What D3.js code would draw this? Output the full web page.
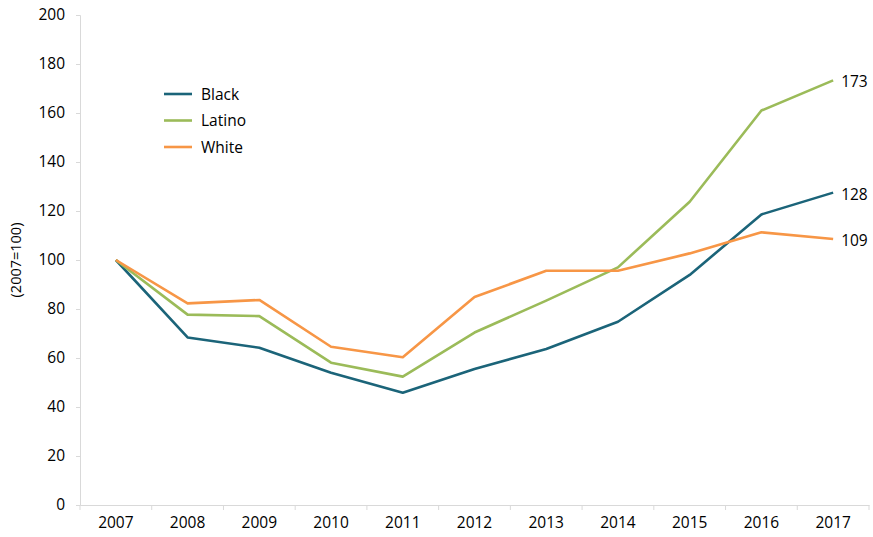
<!DOCTYPE html>
<html><head><meta charset="utf-8">
<script src="https://cdn.jsdelivr.net/npm/d3@7"></script>
<style>
body{margin:0;background:#fff;}
svg text{font-family:"Open Sans","Noto Sans",sans-serif;fill:#000;}
</style></head>
<body><svg id="c" width="873" height="537"></svg>
<script>
const years = ["2007","2008","2009","2010","2011","2012","2013","2014","2015","2016","2017"];
const black = [100, 68.4, 64.2, 54.0, 45.8, 55.5, 63.7, 74.8, 93.9, 118.6, 127.5];
const latino = [100, 77.7, 77.1, 58.1, 52.4, 70.4, 83.4, 97.0, 123.8, 161.0, 173.3];
const white = [100, 82.3, 83.7, 64.6, 60.3, 84.9, 95.6, 95.6, 102.7, 111.3, 108.6];
const seriesNames = ["Black", "Latino", "White"];
const seriesColors = ["#1b6479", "#9bbb59", "#f79646"];
const endLabels = ["128", "173", "109"];
const yTicks = [0,20,40,60,80,100,120,140,160,180,200];

const svg = d3.select("#c");
const m = {l:80, r:869, t:15, b:505};
const x = d3.scaleBand().domain(years).range([m.l, m.r]);
const y = d3.scaleLinear().domain([0,200]).range([m.b, m.t]);
const axisColor = "#d9d9d9";
const fs = "15.5px";

// y axis
const ya = svg.append("g").attr("transform",`translate(${m.l},0)`)
  .call(d3.axisLeft(y).tickValues(yTicks).tickSize(4).tickPadding(11));
ya.select(".domain").attr("stroke",axisColor);
ya.selectAll(".tick line").attr("stroke",axisColor);
ya.selectAll(".tick text").attr("font-size",fs).attr("fill","#000");

// x axis
const xa = svg.append("g").attr("transform",`translate(0,${m.b})`)
  .call(d3.axisBottom(x).tickSize(0).tickPadding(12).tickSizeOuter(0));
xa.select(".domain").attr("stroke",axisColor);
xa.selectAll(".tick text").attr("font-size",fs).attr("fill","#000");
// boundary ticks
const bounds = years.map(d => x(d)).concat([x(years[years.length-1]) + x.bandwidth()]);
svg.append("g").selectAll("line").data(bounds).join("line")
  .attr("x1",d=>d).attr("x2",d=>d).attr("y1",m.b).attr("y2",m.b+5)
  .attr("stroke",axisColor);

// y title
svg.append("text").attr("transform","translate(21,260) rotate(-90)")
  .attr("text-anchor","middle").attr("font-size","14.5px").text("(2007=100)");

const data = [black, latino, white];
const line = d3.line().x((d,i)=>x(years[i]) + x.bandwidth()/2).y(d=>y(d));
svg.append("g").selectAll("path").data(data).join("path")
  .attr("d",line).attr("fill","none")
  .attr("stroke",(d,i)=>seriesColors[i]).attr("stroke-width",2.6)
  .attr("stroke-linejoin","round");

// end labels
svg.append("g").selectAll("text").data(data).join("text")
  .attr("x",(d,i)=>x(years[years.length-1]) + x.bandwidth()/2 + 8)
  .attr("y",d=>y(d[d.length-1]) + 7)
  .attr("font-size",fs).text((d,i)=>endLabels[i]);

// legend
const lg = svg.append("g");
seriesNames.forEach((n,i)=>{
  const yy = 94 + i*26.5;
  lg.append("line").attr("x1",164).attr("x2",192).attr("y1",yy).attr("y2",yy)
    .attr("stroke",seriesColors[i]).attr("stroke-width",2.6);
  lg.append("text").attr("x",201).attr("y",yy+5.5).attr("font-size",fs).text(n);
});
</script></body></html>
